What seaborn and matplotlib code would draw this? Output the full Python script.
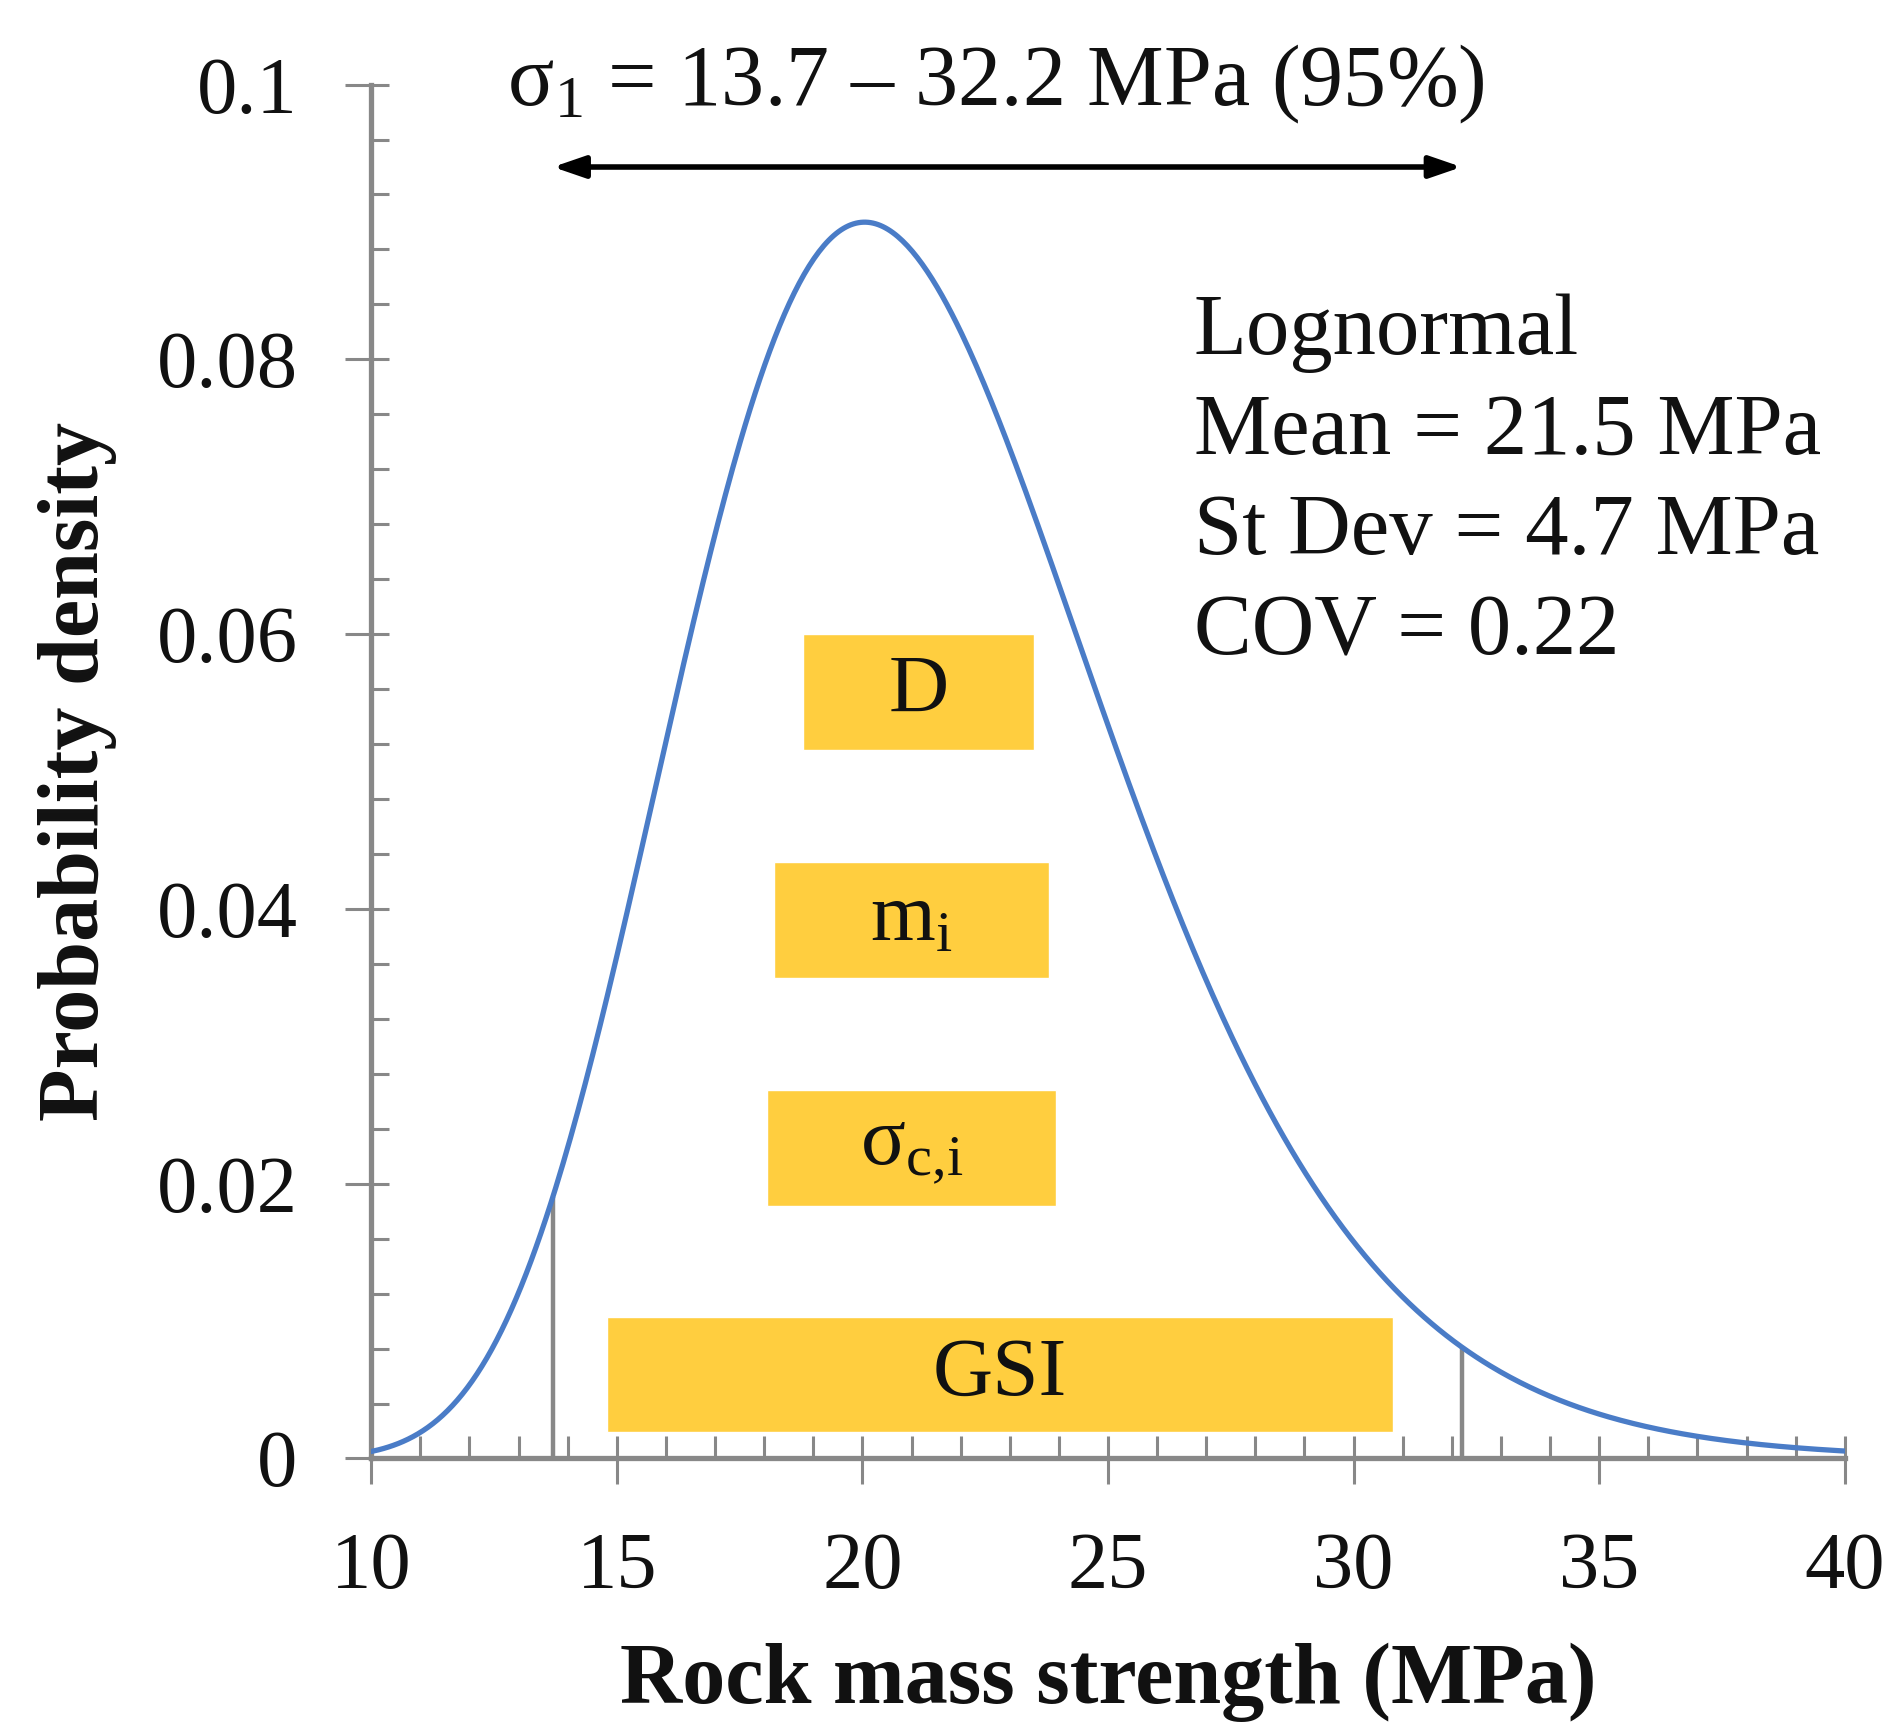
import numpy as np
import pandas as pd
import seaborn as sns
import matplotlib
matplotlib.use("Agg")
import matplotlib.pyplot as plt
from matplotlib.ticker import MultipleLocator

# Lognormal rock mass strength distribution (stated statistics)
dist_mean = 21.5   # MPa
dist_sd = 4.7      # MPa
dist_cov = 0.22
ci_low, ci_high = 13.7, 32.2   # 95% range of sigma_1

# Sensitivity ranges of the input parameters (MPa), drawn as horizontal bands
param_labels = ["D", r"$\mathrm{m_i}$", r"$\mathrm{σ_{c{,}i}}$", "GSI"]
param_low = [18.8, 18.2, 18.05, 14.8]
param_high = [23.5, 23.8, 23.95, 30.8]
param_level = [0.0558, 0.0392, 0.0226, 0.0061]   # vertical position (density units)
band_height = 0.0084

x_ticks = [10, 15, 20, 25, 30, 35, 40]
y_ticks = [0, 0.02, 0.04, 0.06, 0.08, 0.1]
y_tick_labels = ["0", "0.02", "0.04", "0.06", "0.08", "0.1"]

sns.set_theme(style="white")
plt.rcParams["font.family"] = ["Liberation Serif", "DejaVu Serif"]
plt.rcParams["mathtext.fontset"] = "custom"
plt.rcParams["mathtext.rm"] = "Liberation Serif"
plt.rcParams["mathtext.it"] = "Liberation Serif:italic"
plt.rcParams["mathtext.bf"] = "Liberation Serif:bold"

# Lognormal density from the stated mean and standard deviation
s2 = np.log(1 + (dist_sd / dist_mean) ** 2)
s = np.sqrt(s2)
mu = np.log(dist_mean) - s2 / 2


def lognorm_pdf(x):
    x = np.asarray(x, dtype=float)
    return np.exp(-(np.log(x) - mu) ** 2 / (2 * s2)) / (x * s * np.sqrt(2 * np.pi))


xs = np.linspace(10, 40, 600)
curve = pd.DataFrame({"strength": xs, "density": lognorm_pdf(xs)})

fig = plt.figure(figsize=(18.94, 17.26), dpi=100)
ax = fig.add_axes([0.196, 0.155, 0.778, 0.796])

gray = "#888888"
blue = "#4A7CC7"
gold = "#FFCE3F"
ink = "#111111"

# parameter bands
for lab, lo, hi, lvl in zip(param_labels, param_low, param_high, param_level):
    ax.barh(lvl, hi - lo, left=lo, height=band_height, color=gold, zorder=1)
    ax.text((lo + hi) / 2, lvl, lab, ha="center", va="center", fontsize=60,
            color=ink, zorder=2)

# 95% bounds
for xb in (ci_low, ci_high):
    ax.plot([xb, xb], [0, float(lognorm_pdf(xb))], color=gray, lw=3.2, zorder=2,
            solid_capstyle="butt")

sns.lineplot(data=curve, x="strength", y="density", ax=ax, color=blue, lw=3.8,
             zorder=3)

# double-headed arrow for the 95% range
ax.annotate("", xy=(ci_high, 0.094), xytext=(ci_low, 0.094),
            arrowprops=dict(arrowstyle="<|-|>,head_length=1.6,head_width=0.55",
                            color="black", lw=4, shrinkA=0, shrinkB=0),
            annotation_clip=False)
ax.text(22.72, 0.1, r"$\mathrm{σ_1}$ = 13.7 – 32.2 MPa (95%)",
        ha="center", va="center", fontsize=62, color=ink)

stats_text = (f"Lognormal\nMean = {dist_mean} MPa\nSt Dev = {dist_sd} MPa\n"
              f"COV = {dist_cov}")
ax.text(26.75, 0.0848, stats_text, ha="left", va="top", fontsize=62.5,
        linespacing=1.34, color=ink)

ax.set_xlim(10, 40)
ax.set_ylim(0, 0.1)
ax.set_xticks(x_ticks)
ax.set_xticklabels([str(v) for v in x_ticks])
ax.set_yticks(y_ticks)
ax.set_yticklabels(y_tick_labels)
ax.xaxis.set_minor_locator(MultipleLocator(1))
ax.yaxis.set_minor_locator(MultipleLocator(0.004))
ax.xaxis.remove_overlapping_locs = False
ax.yaxis.remove_overlapping_locs = False

for side in ("top", "right"):
    ax.spines[side].set_visible(False)
for side in ("left", "bottom"):
    ax.spines[side].set_color(gray)
    ax.spines[side].set_linewidth(3.8)
    ax.spines[side].set_zorder(0.5)

ax.tick_params(axis="both", which="both", bottom=True, left=True, top=False,
               right=False)
ax.tick_params(axis="both", which="major", direction="out", length=19, width=2.2,
               color=gray, labelsize=58, labelcolor=ink, pad=34)
ax.tick_params(axis="x", which="minor", direction="in", length=16, width=2.2,
               color=gray)
ax.tick_params(axis="y", which="minor", direction="in", length=13, width=2.2,
               color=gray)

ax.set_xlabel("Rock mass strength (MPa)", fontsize=62, fontweight="bold",
              color=ink)
ax.set_ylabel("Probability density", fontsize=62, fontweight="bold", color=ink)
ax.xaxis.label.set_va("center")
ax.yaxis.label.set_va("center")
ax.xaxis.set_label_coords(0.5, -0.163)
ax.yaxis.set_label_coords(-0.199, 0.5)
ax.grid(False)

fig.savefig("out.png", dpi=100, facecolor="white")
